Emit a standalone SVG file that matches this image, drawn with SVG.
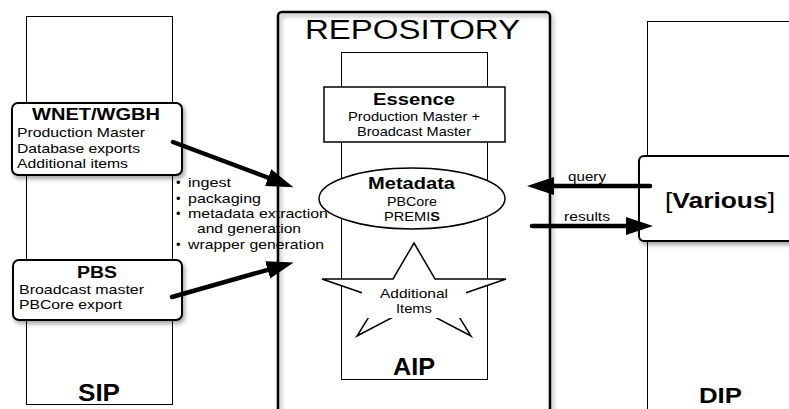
<svg xmlns="http://www.w3.org/2000/svg" width="789" height="409" viewBox="0 0 789 409">
<style>
text{font-family:"Liberation Sans",Arial,sans-serif;fill:#000}
.b{font-weight:bold}
.t13{font-size:13px}
.t17{font-size:17px;font-weight:bold}
.thin{fill:none;stroke:#000;stroke-width:1}
.card{fill:#fff;stroke:#000;stroke-width:2}
.arrow{fill:none;stroke:#000;stroke-width:4.5;stroke-linecap:round}
</style>
<defs>
<filter id="sh" x="-10%" y="-10%" width="130%" height="130%">
<feDropShadow dx="2" dy="3" stdDeviation="2" flood-color="#000" flood-opacity="0.35"/>
</filter>
<marker id="ah" markerUnits="userSpaceOnUse" markerWidth="28" markerHeight="20" refX="18" refY="10" orient="auto">
<path d="M0,1 L27,10 L0,19 z" fill="#000"/>
</marker>
</defs>
<rect width="789" height="409" fill="#fff"/>

<g id="sip">
<rect class="thin" x="26.5" y="16.5" width="146" height="388"/>
<text class="b" x="78" y="401" font-size="24" textLength="42" lengthAdjust="spacingAndGlyphs">SIP</text>
</g>

<g id="dip">
<rect class="thin" x="647.5" y="21.5" width="160" height="420"/>
<text class="b" x="699" y="403" font-size="22" textLength="43" lengthAdjust="spacingAndGlyphs">DIP</text>
</g>

<g id="wnet-wgbh">
<rect class="card" x="12" y="103" width="170" height="72" rx="6" filter="url(#sh)"/>
<text class="t17" x="32" y="120" textLength="128" lengthAdjust="spacingAndGlyphs">WNET/WGBH</text>
<text class="t13" x="17" y="137" textLength="128" lengthAdjust="spacingAndGlyphs">Production Master</text>
<text class="t13" x="17" y="153" textLength="123" lengthAdjust="spacingAndGlyphs">Database exports</text>
<text class="t13" x="17" y="168" textLength="111" lengthAdjust="spacingAndGlyphs">Additional items</text>
</g>

<g id="pbs">
<rect class="card" x="13" y="260" width="169" height="60" rx="6" filter="url(#sh)"/>
<text class="b" x="77" y="278" font-size="16" textLength="40" lengthAdjust="spacingAndGlyphs">PBS</text>
<text class="t13" x="19" y="294" textLength="125" lengthAdjust="spacingAndGlyphs">Broadcast master</text>
<text class="t13" x="19" y="309" textLength="103" lengthAdjust="spacingAndGlyphs">PBCore export</text>
</g>

<g id="process-list" class="t13">
<text x="176" y="187">•</text><text x="188" y="187" textLength="43" lengthAdjust="spacingAndGlyphs">ingest</text>
<text x="176" y="203">•</text><text x="188" y="203" textLength="73" lengthAdjust="spacingAndGlyphs">packaging</text>
<text x="176" y="218">•</text><text x="188" y="218" textLength="140" lengthAdjust="spacingAndGlyphs">metadata extraction</text>
<text x="197" y="233" textLength="104" lengthAdjust="spacingAndGlyphs">and generation</text>
<text x="176" y="249">•</text><text x="188" y="249" textLength="136" lengthAdjust="spacingAndGlyphs">wrapper generation</text>
</g>

<g id="repository">
<rect x="278" y="12" width="272" height="440" rx="4" fill="none" stroke="#000" stroke-width="2.5" filter="url(#sh)"/>
<text x="305" y="39" font-size="27" textLength="215" lengthAdjust="spacingAndGlyphs">REPOSITORY</text>
</g>

<g id="aip">
<rect class="thin" x="341.5" y="52.5" width="146" height="327" fill="#fff"/>
<text class="b" x="393" y="375" font-size="23" textLength="42" lengthAdjust="spacingAndGlyphs">AIP</text>
</g>

<g id="essence">
<rect x="324" y="87" width="181" height="55" fill="#fff" stroke="#000" stroke-width="1.5"/>
<text class="t17" x="373" y="105" textLength="82" lengthAdjust="spacingAndGlyphs">Essence</text>
<text class="t13" x="348" y="121" textLength="132" lengthAdjust="spacingAndGlyphs">Production Master +</text>
<text class="t13" x="357" y="136" textLength="114" lengthAdjust="spacingAndGlyphs">Broadcast Master</text>
</g>

<g id="metadata">
<ellipse cx="412" cy="198.5" rx="93" ry="30.5" fill="#fff" stroke="#000" stroke-width="1.5"/>
<text class="t17" x="368" y="189" textLength="87" lengthAdjust="spacingAndGlyphs">Metadata</text>
<text class="t13" x="387" y="206" textLength="50" lengthAdjust="spacingAndGlyphs">PBCore</text>
<text class="t13" x="384" y="221" textLength="56" lengthAdjust="spacingAndGlyphs">PREMI<tspan class="b">S</tspan></text>
</g>

<g id="additional-items">
<polygon points="414,243 435,279 506,279 448,299 471,336 414,306 357,336 380,299 322,279 393,279" fill="#fff" stroke="#000" stroke-width="1.5" stroke-linejoin="miter"/>
<rect x="362" y="284" width="104" height="34" fill="#fff"/>
<text class="t13" x="380" y="298" textLength="68" lengthAdjust="spacingAndGlyphs">Additional</text>
<text class="t13" x="396" y="313" textLength="36" lengthAdjust="spacingAndGlyphs">Items</text>
</g>

<g id="various">
<rect class="card" x="639" y="156" width="170" height="85" rx="5" filter="url(#sh)"/>
<text x="665" y="208" font-size="22" textLength="110" lengthAdjust="spacingAndGlyphs">[<tspan class="b">Various</tspan>]</text>
</g>

<g id="connectors">
<line class="arrow" x1="173" y1="142" x2="285" y2="184" marker-end="url(#ah)"/>
<line class="arrow" x1="172" y1="297" x2="285" y2="265" marker-end="url(#ah)"/>
<line class="arrow" x1="650" y1="186" x2="536" y2="186" marker-end="url(#ah)"/>
<line class="arrow" x1="532" y1="226" x2="644" y2="226" marker-end="url(#ah)"/>
<text x="568" y="181" font-size="12" textLength="38" lengthAdjust="spacingAndGlyphs">query</text>
<text x="564" y="221" font-size="12" textLength="46" lengthAdjust="spacingAndGlyphs">results</text>
</g>
</svg>
